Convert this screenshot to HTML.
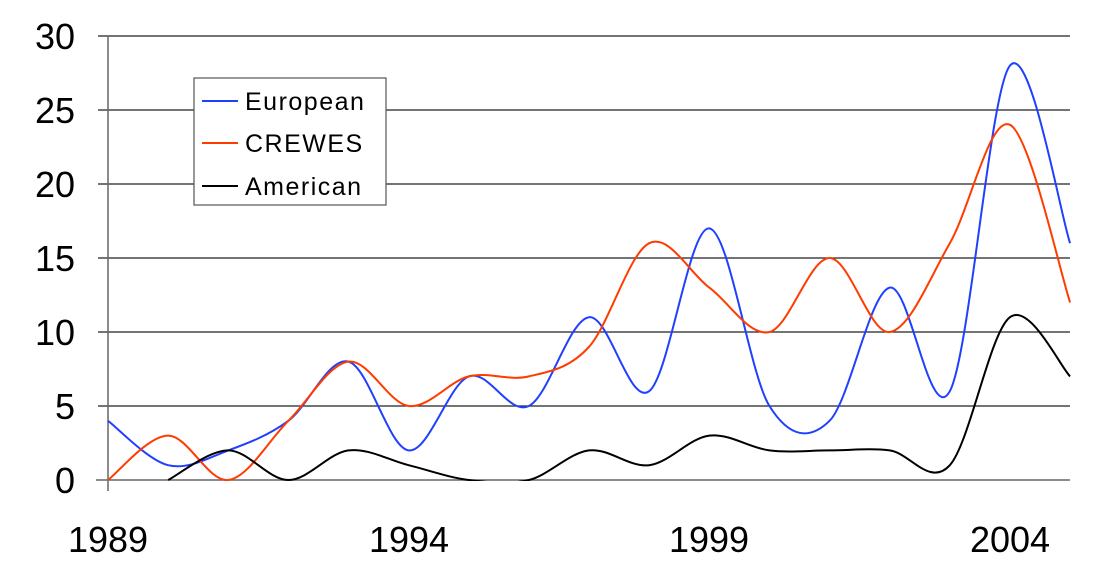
<!DOCTYPE html>
<html><head><style>body{margin:0;background:#fff}svg{display:block}text{font-family:"Liberation Sans",sans-serif;fill:#000}</style></head>
<body>
<svg id="s" width="1100" height="580" xmlns="http://www.w3.org/2000/svg">
<defs><clipPath id="cp"><rect x="100" y="0" width="980" height="481"/></clipPath></defs>
<g stroke="#222" stroke-width="1.2">
<line x1="98" y1="36" x2="1070" y2="36"/><line x1="98" y1="110" x2="1070" y2="110"/>
<line x1="98" y1="184" x2="1070" y2="184"/><line x1="98" y1="258" x2="1070" y2="258"/>
<line x1="98" y1="332" x2="1070" y2="332"/><line x1="98" y1="406" x2="1070" y2="406"/>
</g>
<g stroke="#666" stroke-width="1.5">
<line x1="96" y1="480" x2="1070" y2="480"/><line x1="108" y1="36" x2="108" y2="491"/>
</g>
<g font-size="36" text-anchor="end">
<text x="75" y="49">30</text><text x="75" y="123">25</text><text x="75" y="197">20</text>
<text x="75" y="271">15</text><text x="75" y="345">10</text><text x="75" y="419">5</text><text x="75" y="493">0</text>
</g>
<g font-size="36" text-anchor="middle">
<text x="108" y="552">1989</text><text x="409" y="552">1994</text><text x="709" y="552">1999</text><text x="1010" y="552">2004</text>
</g>
<g id="series" fill="none" stroke-width="2" clip-path="url(#cp)"></g>
<rect x="194" y="78" width="192" height="127" fill="#fff" stroke="#555" stroke-width="1.2"/>
<line x1="202" y1="101" x2="238" y2="101" stroke="#2040ff" stroke-width="2"/>
<line x1="202" y1="143" x2="238" y2="143" stroke="#ff3c00" stroke-width="2"/>
<line x1="202" y1="186" x2="238" y2="186" stroke="#000" stroke-width="2"/>
<g font-size="25" letter-spacing="1.5">
<text x="245" y="110">European</text><text x="245" y="152">CREWES</text><text x="245" y="195">American</text>
</g>
</svg>
<script>
var data=[["#2040ff",0,[4,1,2,4,8,2,7,5,11,6,17,5,4,13,6,28,16]],
["#ff3c00",0,[0,3,0,4,8,5,7,7,9,16,13,10,15,10,16,24,12]],
["#000",1,[0,2,0,2,1,0,0,2,1,3,2,2,2,1,11,7]]];
var g=document.getElementById("series");
data.forEach(function(s){var c=s[0],o=s[1],v=s[2],p=v.map(function(y,i){return[108+(i+o)*60.13,480-y*14.8]});
var d="M"+p[0][0]+","+p[0][1];
for(var i=0;i<p.length-1;i++){var a=p[i-1]||p[i],b=p[i],e=p[i+1],f=p[i+2]||e;
d+=" C"+(b[0]+(e[0]-a[0])/6)+","+(b[1]+(e[1]-a[1])/6)+" "+(e[0]-(f[0]-b[0])/6)+","+(e[1]-(f[1]-b[1])/6)+" "+e[0]+","+e[1];}
var el=document.createElementNS("http://www.w3.org/2000/svg","path");el.setAttribute("d",d);el.setAttribute("stroke",c);g.appendChild(el);});
</script>
</body></html>
